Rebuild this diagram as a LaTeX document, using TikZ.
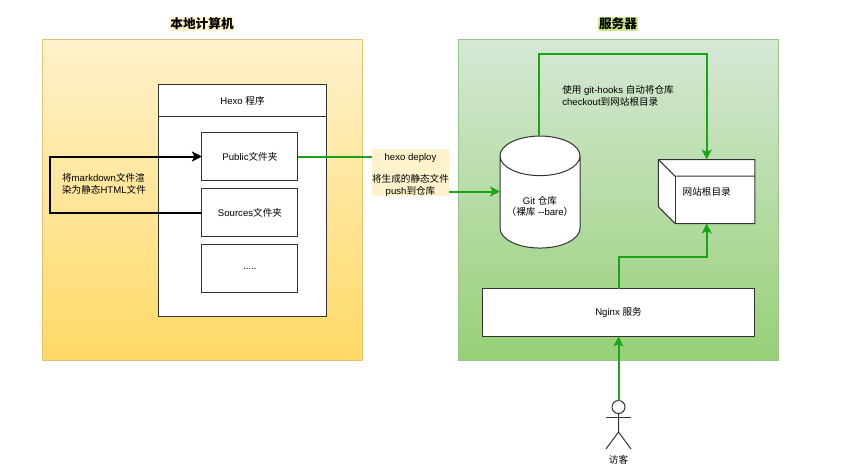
\documentclass[tikz,border=0pt]{standalone}
\usepackage{fontspec}
\setmainfont{Liberation Sans}
\newfontfamily\cjk{Noto Sans CJK SC}
\newcommand{\zh}[1]{{\cjk #1}}
\usetikzlibrary{positioning, shapes.geometric, arrows.meta}
\definecolor{linegreen}{HTML}{18A518}
\definecolor{linegray}{HTML}{333333}
\definecolor{localtop}{HTML}{FFF2CC}
\definecolor{localbottom}{HTML}{FFD966}
\definecolor{localline}{HTML}{E3C46E}
\definecolor{servertop}{HTML}{D5E8D4}
\definecolor{serverbottom}{HTML}{97D077}
\definecolor{serverline}{HTML}{9CC48C}
\definecolor{serverhigh}{HTML}{CDEB8B}

\begin{document}
\begin{tikzpicture}[x=0.75pt, y=-0.75pt, font=\fontsize{7.2}{8.8}\selectfont,
		box/.style={draw=linegray, fill=white, line width=0.75pt, align=center, inner sep=0pt, outer sep=0pt},
		area/.style={line width=0.75pt, minimum width=240pt, minimum height=240pt},
		title/.style={font=\fontsize{9.5}{11}\selectfont\cjk\bfseries, inner sep=0.5pt},
		conn/.style={draw=linegreen, line width=1.5pt},
		tip/.style={-{Stealth[length=7.5pt, width=7.5pt, inset=1.8pt]}}]
		\useasboundingbox (0,0) rectangle (841,474);

		\node[area, draw=localline, top color=localtop, bottom color=localbottom] (local) at (202,200) {};
		\node[area, draw=serverline, top color=servertop, bottom color=serverbottom] (server) at (618.5,200) {};
		\node[title, fill=localtop] (localtitle) at (202,24) {本地计算机};
		\node[title, fill=serverhigh] (servertitle) at (618,24) {服务器};

		\node[box, minimum width=126pt, minimum height=24pt] (hexohead) at (242.5,100.5) {Hexo \zh{程序}};
		\node[box, minimum width=126pt, minimum height=150pt, below=0pt of hexohead] (hexobody) {};
		\node[box, minimum width=72pt, minimum height=36pt, below right=12pt and 32.6pt of hexohead.south west] (public) {Public\zh{文件夹}};
		\node[box, minimum width=72pt, minimum height=36pt, below=6pt of public] (sources) {Sources\zh{文件夹}};
		\node[box, minimum width=72pt, minimum height=36pt, below=6pt of sources] (dots) {.....};
		\node[align=left, inner sep=0pt] (rendertext) at (104,184) {\zh{将}markdown\zh{文件渲}\\\zh{染为静态}HTML\zh{文件}};

		\node[fill=localtop, align=center, inner sep=0pt, minimum width=57.5pt, minimum height=33.5pt] (deploy) at (410.5,172.5) {\rule{0pt}{8.5pt}hexo deploy\\[7.7pt]\zh{将生成的静态文件}\\push\zh{到仓库}};

		\node[box, cylinder, shape border rotate=90, shape aspect=0.53, inner sep=3pt, minimum width=60pt, minimum height=84pt] (gitrepo) at (540,206.5) {Git \zh{仓库}\\\zh{（裸库} -{}-bare\zh{）}};

		\node[minimum width=72.4pt, minimum height=48pt, inner sep=0pt, outer sep=0pt] (webroot) at (706.7,191.5) {};
		\draw[draw=linegray, fill=white, line width=0.75pt] (webroot.north west) -- (webroot.north east) -- (webroot.south east) -- ([xshift=12.5pt]webroot.south west) -- ([yshift=12.5pt]webroot.south west) -- cycle;
		\draw[draw=linegray, line width=0.75pt] (webroot.north west) -- ([xshift=12.5pt, yshift=-12.5pt]webroot.north west) -- ([yshift=-12.5pt]webroot.north east);
		\draw[draw=linegray, line width=0.75pt] ([xshift=12.5pt, yshift=-12.5pt]webroot.north west) -- ([xshift=12.5pt]webroot.south west);
		\node[inner sep=0pt] (webrootlabel) at (webroot) {\zh{网站根目录}};

		\node[box, minimum width=204pt, minimum height=36pt] (nginx) at (618.5,312.5) {Nginx \zh{服务}};
		\node[align=left, inner sep=0pt, anchor=west] (hooktext) at (562,96) {\zh{使用} git-hooks \zh{自动将仓库}\\checkout\zh{到网站根目录}};

		\node[circle, draw=linegray, fill=white, line width=0.75pt, minimum size=9.75pt, inner sep=0pt, outer sep=0pt] (visitor) at (618.5,407) {};
		\draw[draw=linegray, line width=0.75pt] (visitor.south) -- ++(0,18.5) coordinate (visitorhip) -- ++(-12.5,17) (visitorhip) -- ++(12.5,17);
		\draw[draw=linegray, line width=0.75pt] ([yshift=-3pt]visitor.south) ++(-12.5,0) -- ++(25,0);
		\node[inner sep=0pt] (visitorlabel) at (618.5,460) {\zh{访客}};

		\coordinate (hooktop) at (623,54.5);
		\coordinate (nginxturn) at (660,256.5);
		\coordinate (gitin) at (500,191.5);

		\draw[draw=black, line width=1.5pt, tip] (sources.west) -- ++(-152,0) |- (public.west);
		\draw[conn] (public.east) -- (public.east -| deploy.west);
		\draw[conn, tip] (deploy.east |- gitin) -- (gitin);
		\draw[conn, tip] ([xshift=-1.1pt]gitrepo.north) |- (hooktop) -| (webroot.north);
		\draw[conn, tip] (nginx.north) |- (nginxturn) -| (webroot.south);
		\draw[conn, tip] (visitor.north) -- (nginx.south);
	\end{tikzpicture}
\end{document}
